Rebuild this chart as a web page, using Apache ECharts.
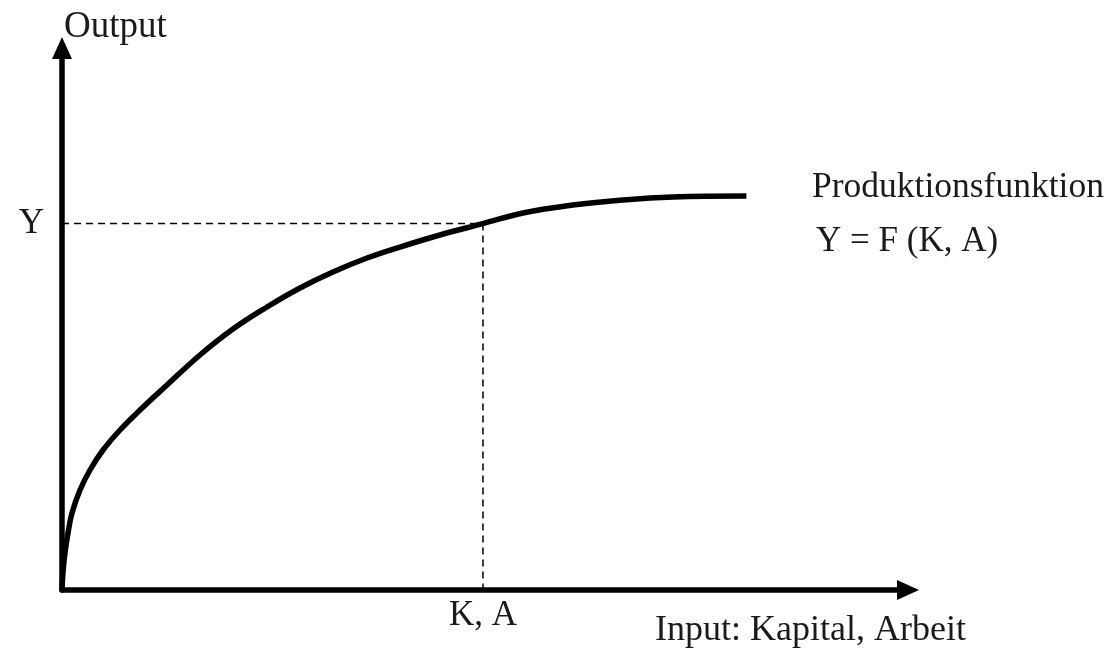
<!DOCTYPE html>
<html>
<head>
<meta charset="utf-8">
<title>Produktionsfunktion</title>
<script src="https://cdn.jsdelivr.net/npm/echarts@6/dist/echarts.min.js"></script>
<style>
html, body { margin: 0; padding: 0; background: #fff; }
#chart { width: 1109px; height: 654px; }
</style>
</head>
<body>
<div id="chart"></div>
<script>
var curveX = [0, 0.12, 0.35, 0.71, 1.18, 2.13, 3.31, 4.85, 6.86, 9.22, 12.41, 16.31, 20.21, 24.23, 28.13, 32.03, 36.05, 39.95, 44.68, 49.76, 54.49, 60.40, 66.31, 72.22, 80.9];
var curveY = [0, 3.32, 6.83, 10.52, 14.21, 18.45, 22.14, 25.83, 29.52, 33.21, 37.82, 43.36, 48.15, 52.21, 55.72, 58.67, 61.25, 63.28, 65.50, 67.6, 69.56, 71.03, 71.96, 72.51, 72.69];
var pointK = 49.76;
var pointY = 67.6;
var labelY = 'Y';
var labelK = 'K, A';
var nameY = 'Output';
var nameX = 'Input: Kapital, Arbeit';
var curveName = 'Produktionsfunktion';
var curveFormula = 'Y = F (K, A)';

var fontFam = '"Liberation Serif", "DejaVu Serif", serif';
var chart = echarts.init(document.getElementById('chart'));

function pairs(xs, ys) {
    var arr = [];
    for (var i = 0; i < xs.length; i++) {
        arr.push([xs[i], ys[i]]);
    }
    return arr;
}

function axisCfg() {
    return {
        type: 'value',
        min: 0,
        max: 100,
        axisLine: {
            show: true,
            symbol: ['none', 'triangle'],
            symbolSize: [20, 22],
            lineStyle: { color: '#000', width: 5.5 }
        },
        axisTick: { show: false },
        axisLabel: { show: false },
        splitLine: { show: false }
    };
}

var dashStyle = { color: '#000', width: 1.5, type: [7, 5] };

chart.setOption({
    animation: false,
    backgroundColor: '#fff',
    grid: { left: 62, right: 201, top: 48, bottom: 64 },
    xAxis: axisCfg(),
    yAxis: axisCfg(),
    series: [
        {
            type: 'line',
            data: [[0, pointY], [pointK, pointY]],
            showSymbol: true,
            symbolSize: 0,
            lineStyle: dashStyle,
            label: {
                show: true,
                position: 'left',
                distance: 18,
                formatter: function (p) { return p.dataIndex === 0 ? labelY : ''; },
                fontFamily: fontFam, fontSize: 35, color: '#1a1a1a'
            },
            z: 1
        },
        {
            type: 'line',
            data: [[pointK, pointY], [pointK, 0]],
            showSymbol: true,
            symbolSize: 0,
            lineStyle: dashStyle,
            label: {
                show: true,
                position: 'bottom',
                distance: 8,
                formatter: function (p) { return p.dataIndex === 1 ? labelK : ''; },
                fontFamily: fontFam, fontSize: 35, color: '#1a1a1a'
            },
            z: 1
        },
        {
            type: 'line',
            data: pairs(curveX, curveY),
            smooth: 0.4,
            showSymbol: false,
            lineStyle: { color: '#000', width: 5.5, cap: 'butt' },
            z: 3
        }
    ],
    graphic: [
        { type: 'text', style: { text: nameY, x: 64, y: 27, font: '37px ' + fontFam, fill: '#1a1a1a', textAlign: 'left', textVerticalAlign: 'middle' } },
        { type: 'text', style: { text: nameX, x: 655, y: 631, font: '36px ' + fontFam, fill: '#1a1a1a', textAlign: 'left', textVerticalAlign: 'middle' } },
        { type: 'text', style: { text: curveName, x: 812, y: 188, font: '35.5px ' + fontFam, fill: '#1a1a1a', textAlign: 'left', textVerticalAlign: 'middle' } },
        { type: 'text', style: { text: curveFormula, x: 816, y: 242, font: '35px ' + fontFam, fill: '#1a1a1a', textAlign: 'left', textVerticalAlign: 'middle' } }
    ]
});
</script>
</body>
</html>
